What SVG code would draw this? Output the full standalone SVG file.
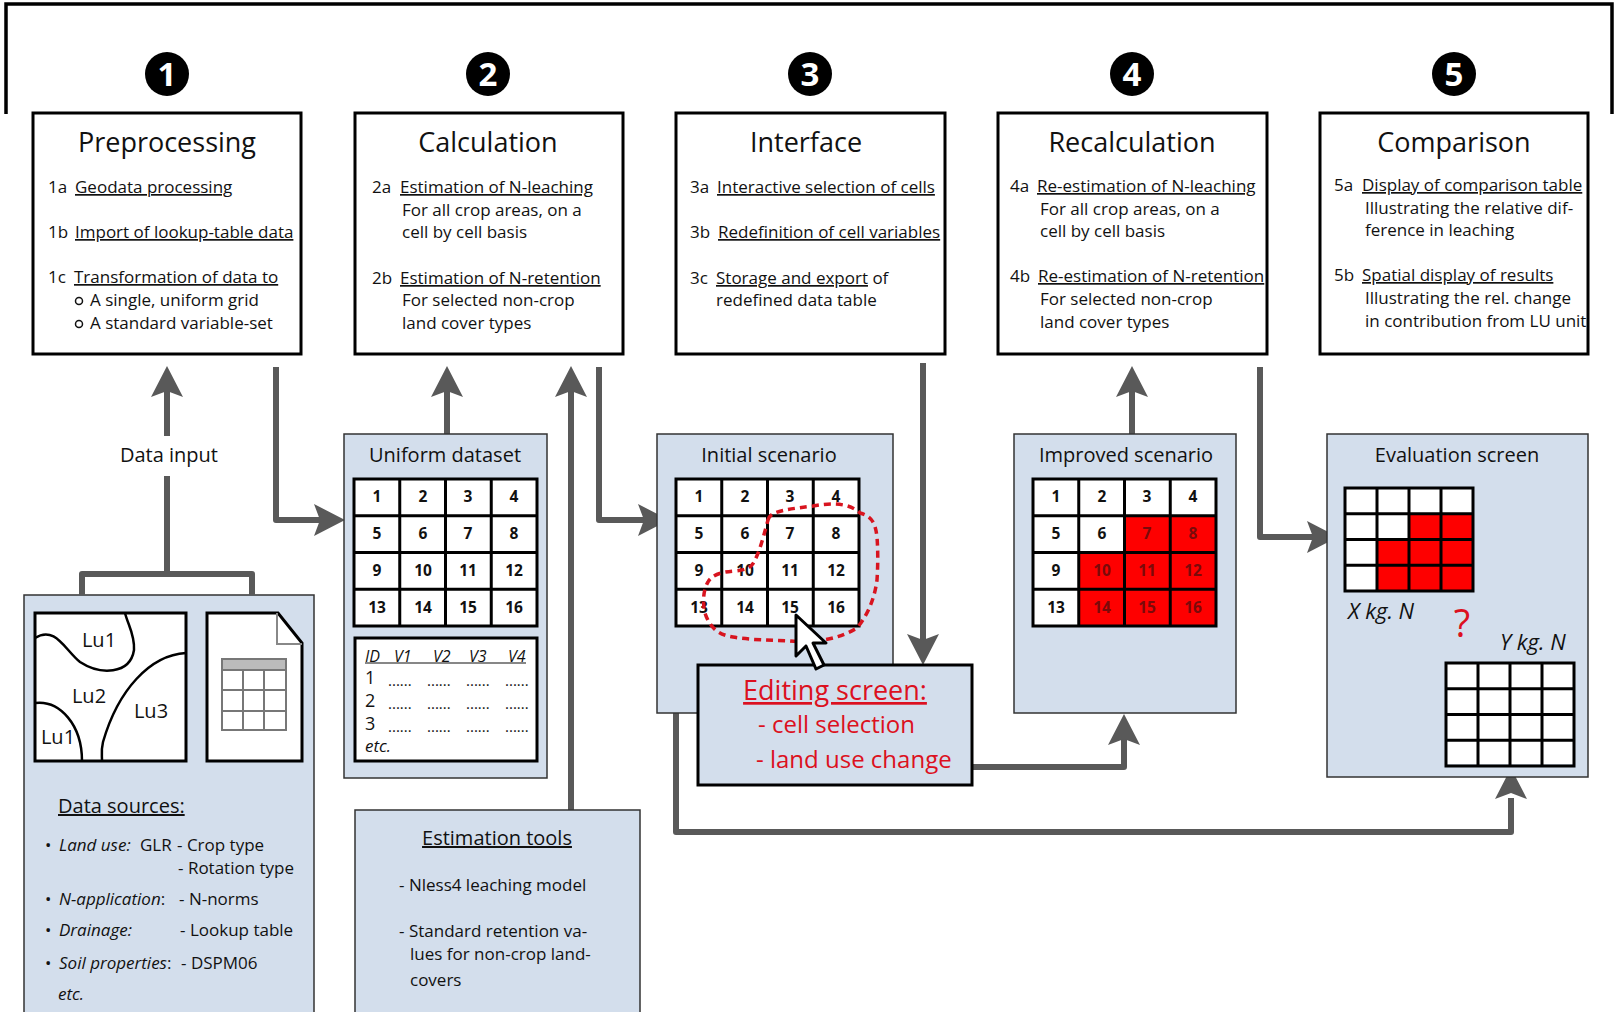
<svg xmlns="http://www.w3.org/2000/svg" width="1614" height="1012" viewBox="0 0 1614 1012">
<style>
text{font-family:"Open Sans","Noto Sans","Liberation Sans",sans-serif;fill:#111}
.box{fill:#fff;stroke:#000;stroke-width:3}
.panel{fill:#d3deec;stroke:#333;stroke-width:1.5}
.ttl{font-size:27px;text-anchor:middle}
.b{font-size:17px}
.u{text-decoration:underline}
.pt{font-size:20px;text-anchor:middle}
.i{font-style:italic}
.num{font-family:"Liberation Sans Narrow","Liberation Sans",sans-serif;font-weight:bold;font-size:15.5px;text-anchor:middle}
.dk{fill:#7a0a0a}
.dig{font-weight:bold;font-size:33px;text-anchor:middle;fill:#fff}
.con{fill:none;stroke:#595959;stroke-width:6;stroke-linejoin:round}
.head{fill:#595959}
.grid{fill:none;stroke:#000;stroke-width:3}
.red{fill:#fe0000}
.wh{fill:#fff}
.r{fill:#dc1020}
.dots{font-size:15px}
</style>
<defs>
<path id="g" class="grid" d="M0 0H183V147H0ZM45.75 0V147M91.5 0V147M137.25 0V147M0 36.75H183M0 73.5H183M0 110.25H183"/>
<path id="s" class="grid" d="M0 0H128V103H0ZM32 0V103M64 0V103M96 0V103M0 25.75H128M0 51.5H128M0 77.25H128"/>
<path id="ah" class="head" d="M0 0L-16 31L0 25L16 31Z"/>
</defs>
<g id="frame"><path d="M6 114V4H1612V114" fill="none" stroke="#000" stroke-width="3.5"/></g>

<g id="source-panel"><rect class="panel" x="24" y="595" width="290" height="425"/>
<rect class="box" x="35" y="613" width="151" height="148"/>
<path d="M35 638C55 625 65 650 80 662C100 675 130 675 134 650C135 635 128 625 125 613M186 653C150 655 118 690 103 742C101 750 102 755 102 761M35 703C60 700 82 725 82 761" fill="none" stroke="#000" stroke-width="2.5"/>
<text class="pt" x="99" y="647">Lu1</text><text class="pt" x="89" y="703">Lu2</text><text class="pt" x="151" y="718">Lu3</text><text class="pt" x="58" y="744">Lu1</text>
<path class="box" d="M207 613H278L302 643V761H207Z"/>
<path d="M277 613V644H302" fill="none" stroke="#888" stroke-width="2"/>
<rect x="222" y="659" width="64" height="71" fill="#fff" stroke="#777" stroke-width="2"/>
<rect x="222" y="659" width="64" height="11" fill="#bbb" stroke="#777" stroke-width="2"/>
<path d="M243 670V730M264 670V730M222 690H286M222 711H286" fill="none" stroke="#777" stroke-width="2"/>
<text x="58" y="813" font-size="20" class="u">Data sources:</text>
<g class="b">
<text x="45" y="851">•</text><text x="59" y="851" class="i">Land use:</text><text x="140" y="851">GLR</text><text x="177" y="851">- Crop type</text><text x="178" y="874">- Rotation type</text>
<text x="45" y="905">•</text><text x="59" y="905"><tspan class="i">N-application</tspan>:</text><text x="179" y="905">- N-norms</text>
<text x="45" y="936">•</text><text x="59" y="936" class="i">Drainage:</text><text x="180" y="936">- Lookup table</text>
<text x="45" y="969">•</text><text x="59" y="969"><tspan class="i">Soil properties</tspan>:</text><text x="181" y="969">- DSPM06</text>
<text x="58" y="1000" class="i">etc.</text></g></g>

<g id="connectors">
<path class="con" d="M82 595V574H252V595M167 574V476"/>
<path class="con" d="M167 436V385"/>
<path class="con" d="M276 367V520H325"/>
<path class="con" d="M447 434V385"/>
<path class="con" d="M571 810V385"/>
<path class="con" d="M599 367V520H648"/>
<path class="con" d="M923 363V645"/>
<path class="con" d="M972 767H1124V733"/>
<path class="con" d="M1132 434V385"/>
<path class="con" d="M1260 367V537H1317"/>
<path class="con" d="M676 713V832H1511V798"/>
<use href="#ah" transform="translate(167 366)"/>
<use href="#ah" transform="translate(345 520) rotate(90)"/>
<use href="#ah" transform="translate(447 366)"/>
<use href="#ah" transform="translate(571 366)"/>
<use href="#ah" transform="translate(669 520) rotate(90)"/>
<use href="#ah" transform="translate(923 665) rotate(180)"/>
<use href="#ah" transform="translate(1124 714)"/>
<use href="#ah" transform="translate(1132 366)"/>
<use href="#ah" transform="translate(1338 537) rotate(90)"/>
<use href="#ah" transform="translate(1511 768)"/>
</g>

<g id="step1"><circle cx="167" cy="74" r="22"/><text class="dig" x="167" y="86">1</text>
<rect class="box" x="33" y="113" width="268" height="241"/>
<text class="ttl" x="167" y="152">Preprocessing</text>
<g class="b"><text x="48" y="193">1a</text><text x="75" y="193" class="u">Geodata processing</text>
<text x="48" y="238">1b</text><text x="75" y="238" class="u">Import of lookup-table data</text>
<text x="48" y="283">1c</text><text x="74" y="283" class="u">Transformation of data to</text>
<circle cx="79" cy="301" r="3.5" fill="none" stroke="#111" stroke-width="1.5"/><text x="90" y="306">A single, uniform grid</text>
<circle cx="79" cy="324" r="3.5" fill="none" stroke="#111" stroke-width="1.5"/><text x="90" y="329">A standard variable-set</text></g></g>

<g id="step2"><circle cx="488" cy="74" r="22"/><text class="dig" x="488" y="86">2</text>
<rect class="box" x="355" y="113" width="268" height="241"/>
<text class="ttl" x="488" y="152">Calculation</text>
<g class="b"><text x="372" y="193">2a</text><text x="400" y="193" class="u">Estimation of N-leaching</text><text x="402" y="216">For all crop areas, on a</text><text x="402" y="238">cell by cell basis</text>
<text x="372" y="284">2b</text><text x="400" y="284" class="u">Estimation of N-retention</text><text x="402" y="306">For selected non-crop</text><text x="402" y="329">land cover types</text></g></g>

<g id="step3"><circle cx="810" cy="74" r="22"/><text class="dig" x="810" y="86">3</text>
<rect class="box" x="676" y="113" width="269" height="241"/>
<text class="ttl" x="806" y="152">Interface</text>
<g class="b"><text x="690" y="193">3a</text><text x="717" y="193" class="u">Interactive selection of cells</text>
<text x="690" y="238">3b</text><text x="718" y="238" class="u">Redefinition of cell variables</text>
<text x="690" y="284">3c</text><text x="716" y="284"><tspan class="u">Storage and export</tspan> of</text><text x="716" y="306">redefined data table</text></g></g>

<g id="step4"><circle cx="1132" cy="74" r="22"/><text class="dig" x="1132" y="86">4</text>
<rect class="box" x="998" y="113" width="269" height="241"/>
<text class="ttl" x="1132" y="152">Recalculation</text>
<g class="b"><text x="1010" y="192">4a</text><text x="1037" y="192" class="u">Re-estimation of N-leaching</text><text x="1040" y="215">For all crop areas, on a</text><text x="1040" y="237">cell by cell basis</text>
<text x="1010" y="282">4b</text><text x="1038" y="282" class="u">Re-estimation of N-retention</text><text x="1040" y="305">For selected non-crop</text><text x="1040" y="328">land cover types</text></g></g>

<g id="step5"><circle cx="1454" cy="74" r="22"/><text class="dig" x="1454" y="86">5</text>
<rect class="box" x="1320" y="113" width="268" height="241"/>
<text class="ttl" x="1454" y="152">Comparison</text>
<g class="b"><text x="1334" y="191">5a</text><text x="1362" y="191" class="u">Display of comparison table</text><text x="1365" y="214">Illustrating the relative dif-</text><text x="1365" y="236">ference in leaching</text>
<text x="1334" y="281">5b</text><text x="1362" y="281" class="u">Spatial display of results</text><text x="1365" y="304">Illustrating the rel. change</text><text x="1365" y="327">in contribution from LU unit</text></g></g>

<g id="data-input"><text class="pt" x="169" y="462">Data input</text></g>

<g id="uniform-dataset"><rect class="panel" x="344" y="434" width="203" height="344"/>
<text class="pt" x="445" y="462">Uniform dataset</text>
<g transform="translate(354 479)"><rect class="wh" width="183" height="147"/><use href="#g"/>
<g class="num"><text x="23" y="23">1</text><text x="69" y="23">2</text><text x="114" y="23">3</text><text x="160" y="23">4</text><text x="23" y="60">5</text><text x="69" y="60">6</text><text x="114" y="60">7</text><text x="160" y="60">8</text><text x="23" y="97">9</text><text x="69" y="97">10</text><text x="114" y="97">11</text><text x="160" y="97">12</text><text x="23" y="134">13</text><text x="69" y="134">14</text><text x="114" y="134">15</text><text x="160" y="134">16</text></g></g>
<rect class="box" x="355" y="638" width="182" height="123"/>
<g font-size="16" class="i"><text x="365" y="662" class="i" font-size="16">ID</text><text x="394" y="662" class="i" font-size="16">V1</text><text x="433" y="662" class="i" font-size="16">V2</text><text x="469" y="662" class="i" font-size="16">V3</text><text x="508" y="662" class="i" font-size="16">V4</text></g>
<path d="M365 663H526" stroke="#111" stroke-width="1.2"/>
<g font-size="18"><text x="365" y="684" font-size="18">1</text><text x="365" y="707" font-size="18">2</text><text x="365" y="730" font-size="18">3</text></g>
<g class="dots"><text x="388" y="686">......</text><text x="427" y="686">......</text><text x="466" y="686">......</text><text x="505" y="686">......</text><text x="388" y="709">......</text><text x="427" y="709">......</text><text x="466" y="709">......</text><text x="505" y="709">......</text><text x="388" y="732">......</text><text x="427" y="732">......</text><text x="466" y="732">......</text><text x="505" y="732">......</text></g>
<text x="365" y="752" class="i" font-size="17">etc.</text></g>

<g id="estimation-tools"><rect class="panel" x="355" y="810" width="285" height="210"/>
<text class="pt u" x="497" y="845">Estimation tools</text>
<g class="b"><text x="399" y="891">- Nless4 leaching model</text><text x="399" y="937">- Standard retention va-</text><text x="410" y="960">lues for non-crop land-</text><text x="410" y="986">covers</text></g></g>

<g id="initial-scenario"><rect class="panel" x="657" y="434" width="236" height="279"/>
<text class="pt" x="769" y="462">Initial scenario</text>
<g transform="translate(676 479)"><rect class="wh" width="183" height="147"/><use href="#g"/>
<g class="num"><text x="23" y="23">1</text><text x="69" y="23">2</text><text x="114" y="23">3</text><text x="160" y="23">4</text><text x="23" y="60">5</text><text x="69" y="60">6</text><text x="114" y="60">7</text><text x="160" y="60">8</text><text x="23" y="97">9</text><text x="69" y="97">10</text><text x="114" y="97">11</text><text x="160" y="97">12</text><text x="23" y="134">13</text><text x="69" y="134">14</text><text x="114" y="134">15</text><text x="160" y="134">16</text></g></g>
<path d="M768 520C770 512 780 510 813 506C830 503 848 502 860 513C870 516 875 520 877 537C878 550 878 565 877 580C875 595 870 612 857 628C845 635 835 638 823 640C810 642 800 642 790 641C770 640 750 640 733 637C720 635 712 630 706 616C702 605 703 590 708 582C712 575 720 572 735 571C745 570 752 568 755 560C760 550 764 535 768 520Z" fill="none" stroke="#d8141f" stroke-width="3.5" stroke-dasharray="7 5"/></g>

<g id="editing-screen"><rect x="698" y="665" width="274" height="120" fill="#d3deec" stroke="#000" stroke-width="3"/>
<text class="r u" x="835" y="700" font-size="27" text-anchor="middle">Editing screen:</text>
<text class="r" x="758" y="733" font-size="24">- cell selection</text>
<text class="r" x="756" y="768" font-size="24">- land use change</text>
<path d="M796 615L826 643H813L824 665L816 669L806 646L796 656Z" fill="#fff" stroke="#000" stroke-width="3" stroke-linejoin="round"/></g>

<g id="improved-scenario"><rect class="panel" x="1014" y="434" width="222" height="279"/>
<text class="pt" x="1126" y="462">Improved scenario</text>
<g transform="translate(1033 479)"><rect class="wh" width="183" height="147"/>
<path class="red" d="M91.5 36.75H183V147H45.75V73.5H91.5Z"/><use href="#g"/>
<g class="num"><text x="23" y="23">1</text><text x="69" y="23">2</text><text x="114" y="23">3</text><text x="160" y="23">4</text><text x="23" y="60">5</text><text x="69" y="60">6</text><text x="114" y="60" class="dk">7</text><text x="160" y="60" class="dk">8</text><text x="23" y="97">9</text><text x="69" y="97" class="dk">10</text><text x="114" y="97" class="dk">11</text><text x="160" y="97" class="dk">12</text><text x="23" y="134">13</text><text x="69" y="134" class="dk">14</text><text x="114" y="134" class="dk">15</text><text x="160" y="134" class="dk">16</text></g></g></g>

<g id="evaluation-screen"><rect class="panel" x="1327" y="434" width="261" height="343"/>
<text class="pt" x="1457" y="462">Evaluation screen</text>
<g transform="translate(1345 488)"><rect class="wh" width="128" height="103"/>
<path class="red" d="M64 25.75H128V103H32V51.5H64Z"/><use href="#s"/></g>
<text x="1348" y="619" font-size="22" class="i">X kg. N</text>
<text x="1462" y="637" font-size="38" text-anchor="middle" style="fill:#dc1020">?</text>
<text x="1500" y="650" font-size="22" class="i">Y kg. N</text>
<g transform="translate(1446 663)"><rect class="wh" width="128" height="101"/><use href="#s"/></g></g>
</svg>
